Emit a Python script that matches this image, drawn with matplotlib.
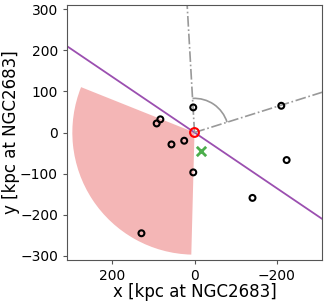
import numpy as np
import matplotlib
matplotlib.use("Agg")
import matplotlib.pyplot as plt
from matplotlib.patches import Wedge, Arc

# satellite positions (kpc)
sat_x = [3, -211, 83, 92, 56, 25, 3, -224, -141, 129]
sat_y = [61, 65, 32, 22, -29, -20, -97, -67, -159, -245]
host_x, host_y = [0], [0]
cen_x, cen_y = [-17], [-45]
plane_slope = 0.677
wedge_r = 297
wedge_theta = (-88.5, 21.8)
axis_angles = (86.7, 162.5)
arc_r = 83
lim = 310
ticks = [-300, -200, -100, 0, 100, 200, 300]

fig = plt.figure(figsize=(3.27, 3.02), dpi=100)
ax = fig.add_axes([67/327, 1 - 260/302, 255/327, 255/302])

ax.add_patch(Wedge((0, 0), wedge_r, wedge_theta[0], wedge_theta[1],
                   facecolor='#f4b6b6', edgecolor='none', zorder=1))

xs = np.array([lim, -lim])
ax.plot(xs, plane_slope * xs, color='#9b4fb0', lw=1.3, zorder=2)

for a in axis_angles:
    t = np.deg2rad(a)
    ax.plot([0, 500 * np.cos(t)], [0, 500 * np.sin(t)], color='#999999',
            lw=1.2, ls='-.', zorder=2)
ax.add_patch(Arc((0, 0), 2 * arc_r, 2 * arc_r, theta1=axis_angles[0],
                 theta2=axis_angles[1], color='#999999', lw=1.2, zorder=2))

ax.scatter(sat_x, sat_y, s=18, facecolors='none', edgecolors='black',
           linewidths=1.5, zorder=4)
ax.scatter(host_x, host_y, s=40, facecolors='none', edgecolors='red',
           linewidths=1.5, zorder=5)
ax.scatter(cen_x, cen_y, s=45, marker='x', color='#4cae4c', linewidths=2,
           zorder=5)

ax.set_xlim(lim, -lim)
ax.set_ylim(-lim, lim)
ax.set_xticks([200, 0, -200])
ax.set_yticks(ticks)
ax.tick_params(labelsize=10, length=3, color='#555555')
ax.xaxis.set_major_formatter(matplotlib.ticker.FuncFormatter(lambda v, p: f"{int(v)}".replace('-', '\u2212')))
ax.yaxis.set_major_formatter(matplotlib.ticker.FuncFormatter(lambda v, p: f"{int(v)}".replace('-', '\u2212')))
for s in ax.spines.values():
    s.set_color('#555555')
ax.set_xlabel('x [kpc at NGC2683]', fontsize=12, labelpad=0)
ax.set_ylabel('y [kpc at NGC2683]', fontsize=12, labelpad=0)

fig.savefig('out.png', dpi=100)
